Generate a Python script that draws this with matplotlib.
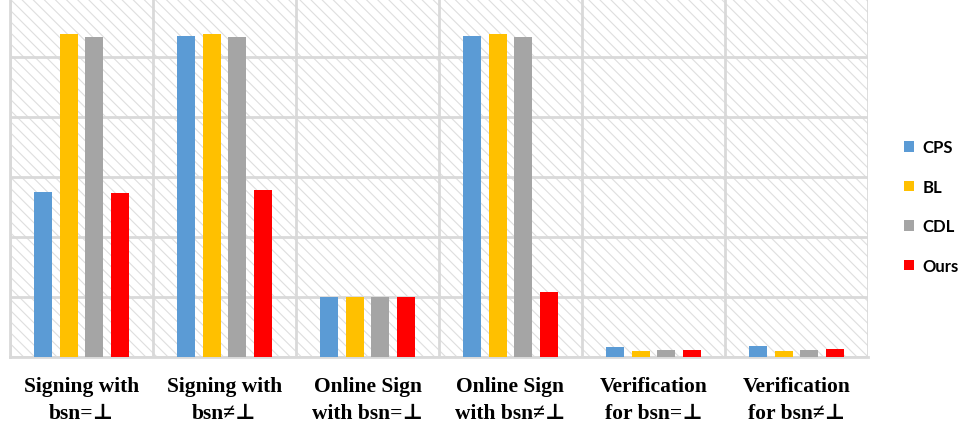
import matplotlib
matplotlib.use("Agg")
import matplotlib.pyplot as plt
import numpy as np
from matplotlib.patches import Rectangle

categories = ["Signing with\nbsn=\u22a5", "Signing with\nbsn\u2260\u22a5",
              "Online Sign\nwith bsn=\u22a5", "Online Sign\nwith bsn\u2260\u22a5",
              "Verification\nfor bsn=\u22a5", "Verification\nfor bsn\u2260\u22a5"]
series_names = ["CPS", "BL", "CDL", "Ours"]
cps = [2.75, 5.35, 1.00, 5.35, 0.17, 0.18]
bl = [5.38, 5.38, 1.00, 5.38, 0.10, 0.10]
cdl = [5.33, 5.33, 1.00, 5.33, 0.12, 0.12]
ours = [2.74, 2.78, 1.00, 1.08, 0.12, 0.13]
colors = ["#5b9bd5", "#ffc000", "#a5a5a5", "#ff0000"]

plt.rcParams['hatch.linewidth'] = 0.8
fig = plt.figure(figsize=(9.66, 4.27), dpi=100)
ax = fig.add_axes([10/966, 69/427, 858/966, 358/427])

x = np.arange(len(categories))
step = 0.18
width = 0.125
for i, (vals, c, name) in enumerate(zip([cps, bl, cdl, ours], colors, series_names)):
    ax.bar(x + (i - 1.5) * step, vals, width, color=c, label=name, zorder=3)

ax.set_xlim(-0.5, len(categories) - 0.5)
ax.set_ylim(0, 358/60)

# hatched background
ax.patch.set_facecolor("white")
bg = Rectangle((0, 0), 1, 1, transform=ax.transAxes, facecolor="white",
               edgecolor="#dedede", hatch="\\\\\\", linewidth=0, zorder=0)
ax.add_patch(bg)

ax.set_yticks(np.arange(0, 6))
ax.set_xticks(x)
ax.set_xticks(np.arange(-0.5, len(categories)), minor=True)
ax.grid(True, axis="y", color="#d9d9d9", linewidth=2, zorder=1)
ax.grid(True, axis="x", which="minor", color="#d9d9d9", linewidth=2, zorder=1)
ax.grid(False, axis="x", which="major")
ax.tick_params(axis="y", left=False, labelleft=False)
ax.tick_params(axis="x", which="both", bottom=False, length=0, pad=14)
ax.set_xticklabels(categories, fontsize=15.5, fontweight="bold",
                   family=["Liberation Serif", "DejaVu Serif"], linespacing=1.45)
for s in ["top", "right"]:
    ax.spines[s].set_visible(False)
for s in ["bottom", "left"]:
    ax.spines[s].set_color("#d9d9d9")
    ax.spines[s].set_linewidth(2)

leg = fig.legend(loc="center left", bbox_to_anchor=(0.929, 0.514), frameon=False,
                 prop={"family": "Lato", "weight": "bold", "size": 12},
                 handlelength=0.6, handleheight=0.6, handletextpad=0.5,
                 labelspacing=1.41, borderaxespad=0)

fig.savefig("out.png", dpi=100)
